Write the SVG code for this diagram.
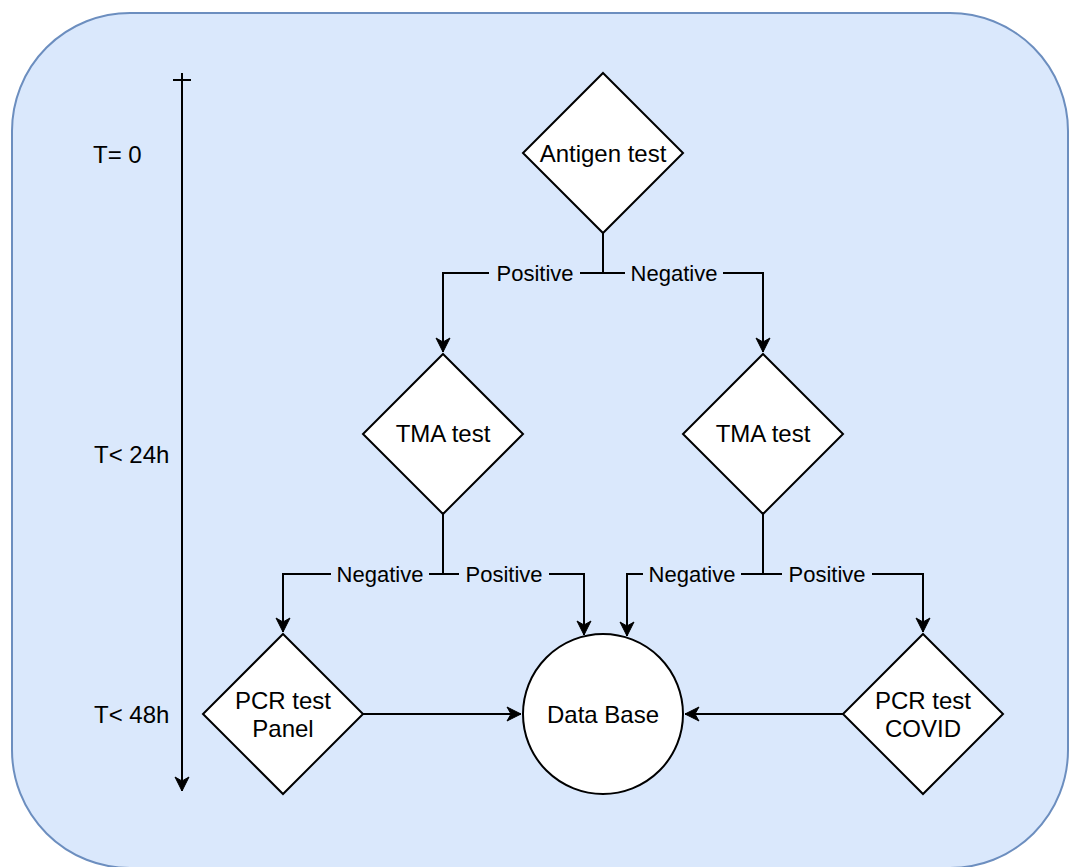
<svg xmlns="http://www.w3.org/2000/svg" width="1070" height="867" viewBox="0 0 1070 867">
  <style>
    .bg { fill: #dae8fc; stroke: #6c8ebf; stroke-width: 2; }
    .shape { fill: #ffffff; stroke: #000000; stroke-width: 2; }
    .edge { fill: none; stroke: #000000; stroke-width: 2; }
    .lbg { fill: #dae8fc; stroke: none; }
    text { font-family: "Liberation Sans", Arial, Helvetica, sans-serif; fill: #000000; }
    .nt { font-size: 24px; text-anchor: middle; }
    .et { font-size: 22px; text-anchor: middle; }
    .tt { font-size: 24px; text-anchor: start; }
  </style>
  <defs>
    <marker id="arr" markerUnits="userSpaceOnUse" markerWidth="18" markerHeight="18" viewBox="0 0 18 18" refX="16" refY="9" orient="auto">
      <path d="M16,9 L2,2 L6,9 L2,16 Z" fill="#000000" stroke="#000000" stroke-width="1"/>
    </marker>
  </defs>

  <rect id="background" class="bg" x="12" y="13" width="1056" height="855" rx="118" ry="118"/>

  <g id="timeline">
    <path class="edge" d="M182,73 V791" marker-end="url(#arr)"/>
    <path class="edge" d="M173,80 H191"/>
    <text class="tt" x="93" y="163">T= 0</text>
    <text class="tt" x="94" y="463">T&lt; 24h</text>
    <text class="tt" x="94" y="723">T&lt; 48h</text>
  </g>

  <g id="connectors">
    <path class="edge" d="M603,233 V273 H443 V352" marker-end="url(#arr)"/>
    <path class="edge" d="M603,233 V273 H763 V352" marker-end="url(#arr)"/>
    <path class="edge" d="M443,514 V574 H283 V632" marker-end="url(#arr)"/>
    <path class="edge" d="M443,514 V574 H584 V635" marker-end="url(#arr)"/>
    <path class="edge" d="M763,514 V574 H627 V636" marker-end="url(#arr)"/>
    <path class="edge" d="M763,514 V574 H923 V632" marker-end="url(#arr)"/>
    <path class="edge" d="M363,714 H521" marker-end="url(#arr)"/>
    <path class="edge" d="M843,714 H685" marker-end="url(#arr)"/>

    <rect class="lbg" x="489" y="263" width="91" height="20"/>
    <text class="et" x="535" y="281">Positive</text>
    <rect class="lbg" x="625" y="263" width="98" height="20"/>
    <text class="et" x="674" y="281">Negative</text>

    <rect class="lbg" x="331" y="564" width="98" height="20"/>
    <text class="et" x="380" y="582">Negative</text>
    <rect class="lbg" x="459" y="564" width="90" height="20"/>
    <text class="et" x="504" y="582">Positive</text>

    <rect class="lbg" x="643" y="564" width="98" height="20"/>
    <text class="et" x="692" y="582">Negative</text>
    <rect class="lbg" x="782" y="564" width="90" height="20"/>
    <text class="et" x="827" y="582">Positive</text>
  </g>

  <g id="antigen-test">
    <polygon class="shape" points="603,73 683,153 603,233 523,153"/>
    <text class="nt" x="603" y="162">Antigen test</text>
  </g>

  <g id="tma-test-left">
    <polygon class="shape" points="443,354 523,434 443,514 363,434"/>
    <text class="nt" x="443" y="442">TMA test</text>
  </g>

  <g id="tma-test-right">
    <polygon class="shape" points="763,354 843,434 763,514 683,434"/>
    <text class="nt" x="763" y="442">TMA test</text>
  </g>

  <g id="pcr-test-panel">
    <polygon class="shape" points="283,634 363,714 283,794 203,714"/>
    <text class="nt" x="283" y="709">PCR test</text>
    <text class="nt" x="283" y="737">Panel</text>
  </g>

  <g id="data-base">
    <circle class="shape" cx="603" cy="714" r="80"/>
    <text class="nt" x="603" y="723">Data Base</text>
  </g>

  <g id="pcr-test-covid">
    <polygon class="shape" points="923,634 1003,714 923,794 843,714"/>
    <text class="nt" x="923" y="709">PCR test</text>
    <text class="nt" x="923" y="737">COVID</text>
  </g>
</svg>
